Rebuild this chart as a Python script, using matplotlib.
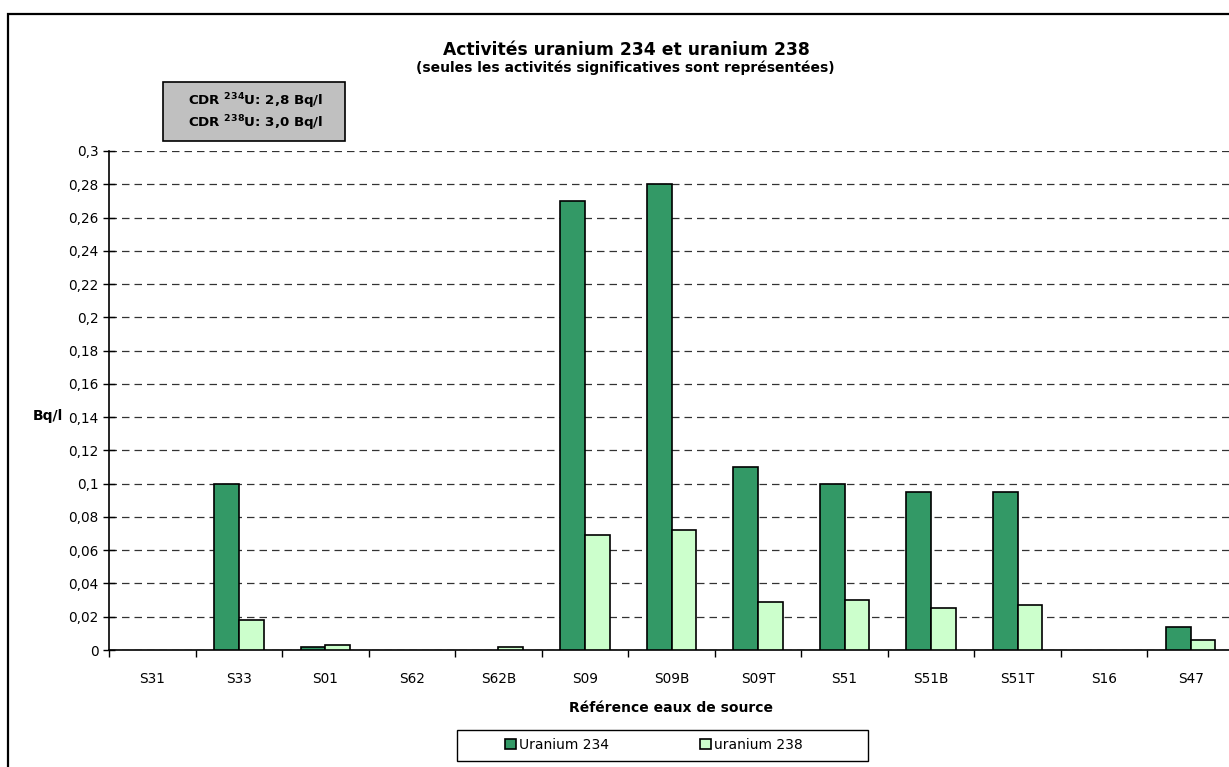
import numpy as np
import matplotlib
matplotlib.use("Agg")
import matplotlib.pyplot as plt
from matplotlib.patches import Rectangle

plt.rcParams['font.family'] = ['DejaVu Sans']

sources = ['S31', 'S33', 'S01', 'S62', 'S62B', 'S09', 'S09B', 'S09T',
           'S51', 'S51B', 'S51T', 'S16', 'S47']
u234 = [0, 0.1, 0.002, 0, 0, 0.27, 0.28, 0.11, 0.1, 0.095, 0.095, 0, 0.014]
u238 = [0, 0.018, 0.003, 0, 0.002, 0.069, 0.072, 0.029, 0.03, 0.025, 0.027, 0, 0.006]
yticks = np.arange(0, 0.3001, 0.02)

W, H = 1229, 767
fig = plt.figure(figsize=(W / 100, H / 100), dpi=100)

def fx(px):
    return px / W

def fy(py):
    return 1 - py / H

# outer chart frame
fig.add_artist(Rectangle((fx(8), -0.1), 1.2, fy(14) + 0.1, transform=fig.transFigure,
                         fill=False, lw=1.6, ec='black'))

ax = fig.add_axes([fx(109), 117 / H, 1125 / W, 499 / H])

x = np.arange(len(sources))
w = 1 / 3.5
a = np.array(u234)
b = np.array(u238)
m1 = a > 0
m2 = b > 0
ax.bar(x[m1] - w / 2, a[m1], w, color='#339966', edgecolor='black', lw=1.2,
       label='Uranium 234', zorder=3)
ax.bar(x[m2] + w / 2, b[m2], w, color='#ccffcc', edgecolor='black', lw=1.2,
       label='uranium 238', zorder=3)

ax.set_xlim(-0.5, len(sources) - 0.5)
ax.set_ylim(0, 0.3)
ax.set_yticks(yticks)
ax.set_yticklabels([('%g' % round(v, 2)).replace('.', ',') for v in yticks], fontsize=9.8)
ax.set_xticks(x)
ax.set_xticklabels(sources, fontsize=9.8)
ax.set_xticks(np.arange(len(sources) + 1) - 0.5, minor=True)
ax.tick_params(axis='x', which='major', length=0, pad=16)
ax.tick_params(axis='x', which='minor', direction='out', length=5, width=1)
ax.tick_params(axis='y', direction='inout', length=9, width=1, pad=3)

ax.yaxis.grid(True, linestyle=(0, (6, 4)), color='#333333', lw=0.9, zorder=0)
ax.set_axisbelow(True)
for s in ['top', 'right']:
    ax.spines[s].set_visible(False)
for s in ['left', 'bottom']:
    ax.spines[s].set_linewidth(1.2)

fig.text(fx(48), fy(416), 'Bq/l', ha='center', va='center', fontsize=10, fontweight='bold')
fig.text(fx(671), fy(708), 'Référence eaux de source', ha='center', va='center',
         fontsize=10, fontweight='bold')

fig.text(fx(626), fy(50), 'Activités uranium 234 et uranium 238', ha='center', va='center',
         fontsize=12.3, fontweight='bold')
fig.text(fx(625), fy(68), '(seules les activités significatives sont représentées)',
         ha='center', va='center', fontsize=10, fontweight='bold')

# limit values box
fig.add_artist(Rectangle((fx(163), fy(141)), fx(345) - fx(163), fy(82) - fy(141),
                         transform=fig.transFigure, fc='#c0c0c0', ec='black', lw=1.2))
fig.text(fx(256), fy(101), r'CDR $^{\mathbf{234}}$U: 2,8 Bq/l', ha='center', va='center',
         fontsize=9.6, fontweight='bold')
fig.text(fx(256), fy(123), r'CDR $^{\mathbf{238}}$U: 3,0 Bq/l', ha='center', va='center',
         fontsize=9.6, fontweight='bold')

# legend frame and entries
fig.add_artist(Rectangle((fx(457), fy(761)), fx(868) - fx(457), fy(730) - fy(761),
                         transform=fig.transFigure, fc='white', ec='black', lw=1.0))
leg = fig.legend(loc='center', ncol=2, bbox_to_anchor=(fx(654), fy(745)),
                 fontsize=10, frameon=False, handlelength=0.8, handleheight=0.8,
                 handletextpad=0.25, columnspacing=6.5, borderaxespad=0)

fig.savefig('out.png', dpi=100)
